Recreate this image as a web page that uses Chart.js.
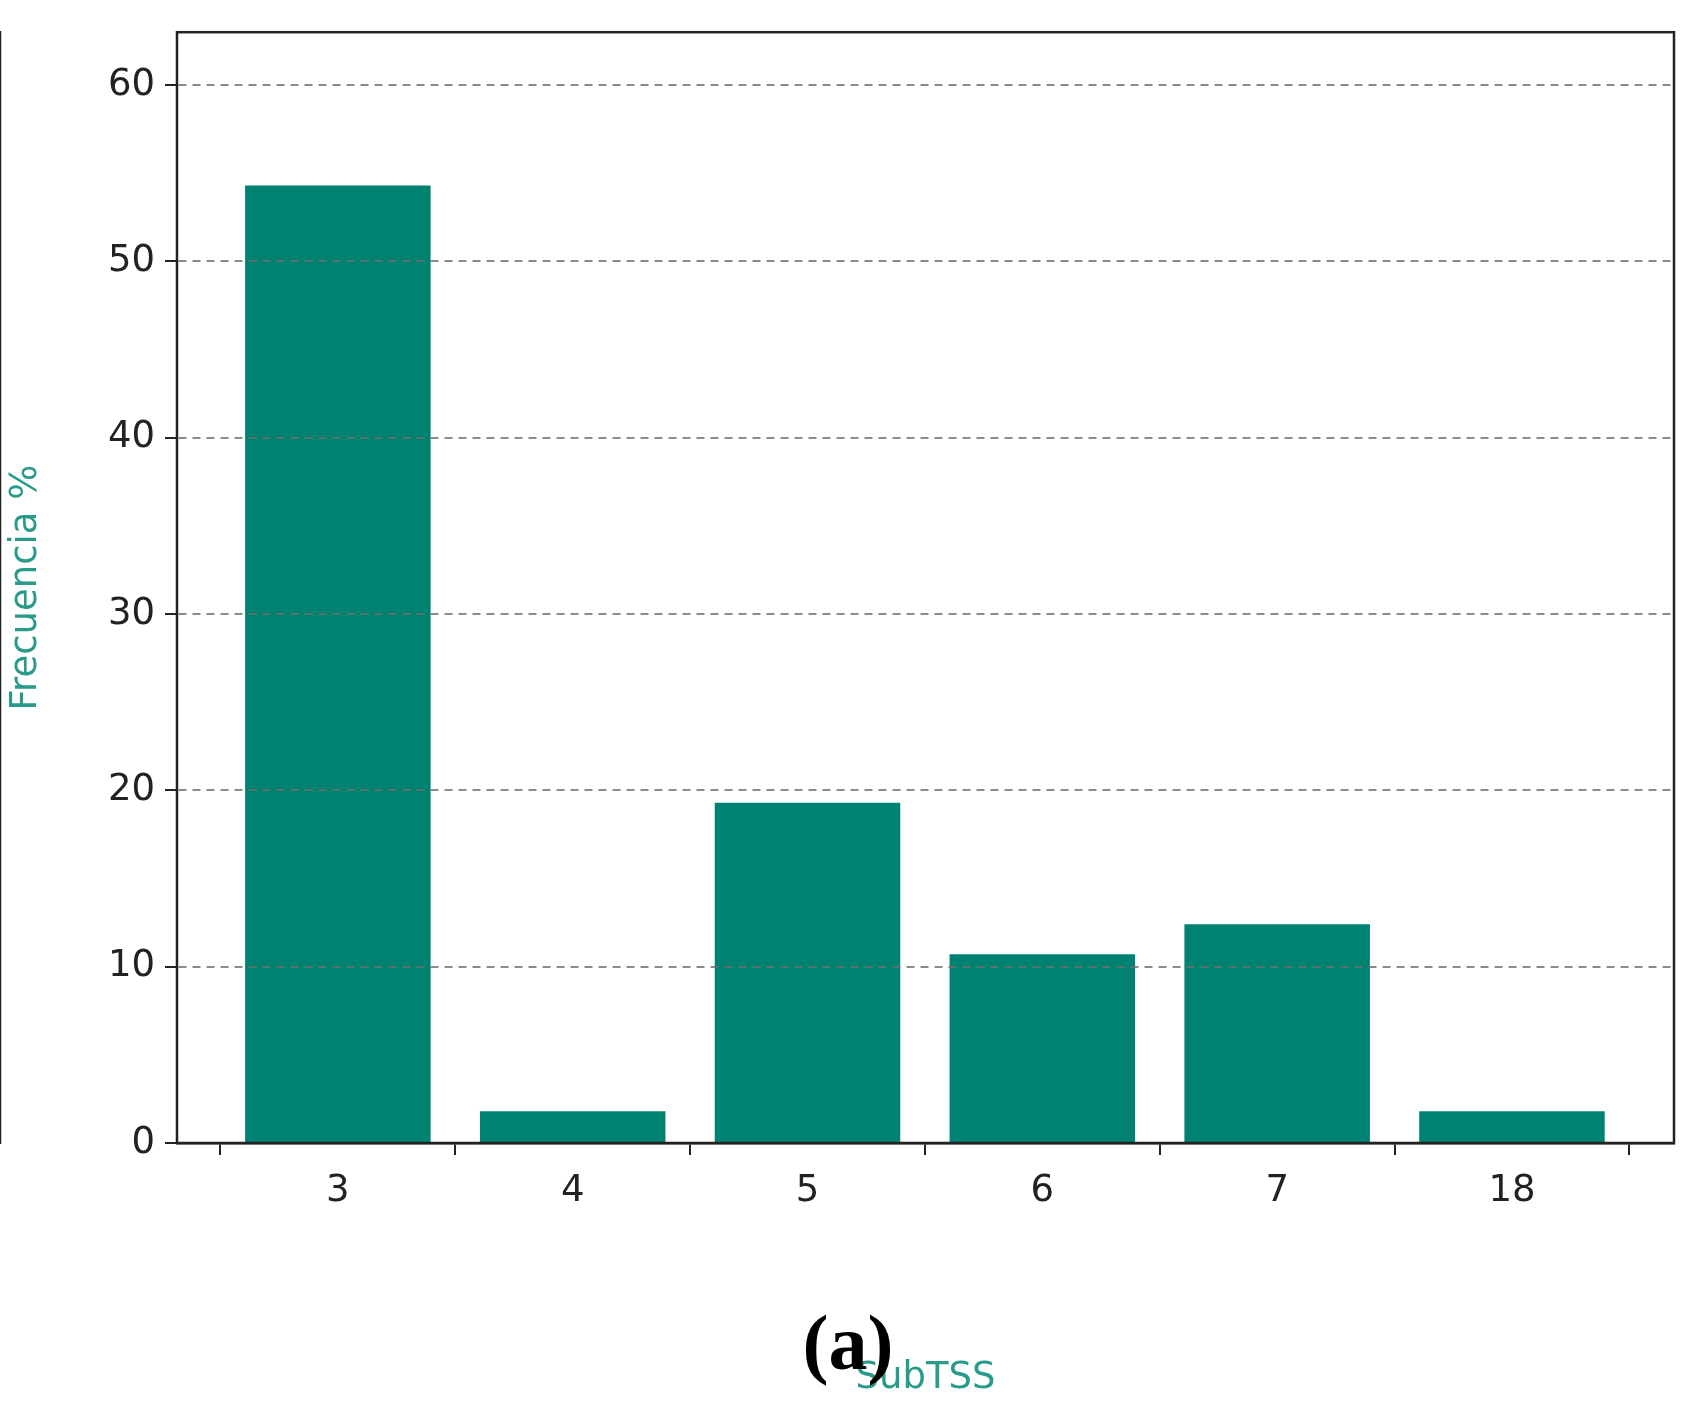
<!DOCTYPE html>
<html><head><meta charset="utf-8">
<script src="https://cdn.jsdelivr.net/npm/chart.js@4"></script>
<style>html,body{margin:0;padding:0;background:#fff;}#w{position:relative;width:1696px;height:1405px;}
#lab{position:absolute;left:0;width:1696px;top:1298px;text-align:center;font:bold 78px "Liberation Serif",serif;color:#000;}</style>
</head><body><div id="w"><canvas id="c" width="1696" height="1405"></canvas><div id="lab">(<span style="font-weight:bold">a</span>)</div></div>
<script>
const categories = ["3","4","5","6","7","18"];
const values = [54.3, 1.8, 19.3, 10.7, 12.4, 1.8];
const yTicks = [0,10,20,30,40,50,60];
const font = {family:"DejaVu Sans", size:37};
new Chart(document.getElementById('c'), {
  type:'bar',
  data:{datasets:[{data:values.map((v,i)=>({x:i,y:v})), backgroundColor:'#008272', barPercentage:0.79, categoryPercentage:1}]},
  options:{
    responsive:false, animation:false, devicePixelRatio:1,
    layout:{padding:{left:0,right:22,top:30,bottom:0}},
    plugins:{legend:{display:false},tooltip:{enabled:false}},
    scales:{
      x:{type:'linear', min:-0.685, max:5.69, offset:false,
        afterBuildTicks:s=>{s.ticks=categories.map((c,i)=>({value:i}));},
        ticks:{callback:(v)=>categories[v], font, color:'#222', padding:14, maxRotation:0, autoSkip:false},
        grid:{display:true, drawOnChartArea:false, drawTicks:true, tickLength:12, color:'#222', lineWidth:2},
        border:{color:'#222', width:2.5},
        title:{display:true, text:'SubTSS', color:'#2a9a8a', font, padding:{top:4}},
        afterFit:s=>{s.height=1405-1143;}
      },
      y:{min:0, max:63,
        afterBuildTicks:s=>{s.ticks=yTicks.map(v=>({value:v}));},
        ticks:{font, color:'#222', padding:10},
        grid:{color:'rgba(110,110,110,0.8)', lineWidth:2, z:1, tickLength:12, tickColor:'#222', tickBorderDash:[0,0], drawTicks:true},
        border:{color:'#222', width:2.5, dash:[8,6]},
        title:{display:true, text:'Frecuencia %', color:'#2a9a8a', font, padding:{bottom:14}},
        afterFit:s=>{s.width=177;}
      }
    }
  },
  plugins:[{id:'frame',afterDraw(ch){const a=ch.chartArea,x=ch.ctx;x.save();x.setLineDash([]);x.strokeStyle='#222';x.lineWidth=2.5;x.strokeRect(a.left,a.top,a.right-a.left,a.bottom-a.top);x.restore();},
    beforeDatasetsDraw(){}}]
});
// dashed grid
Chart.defaults.scale.grid.borderDash=[];
</script></body></html>
